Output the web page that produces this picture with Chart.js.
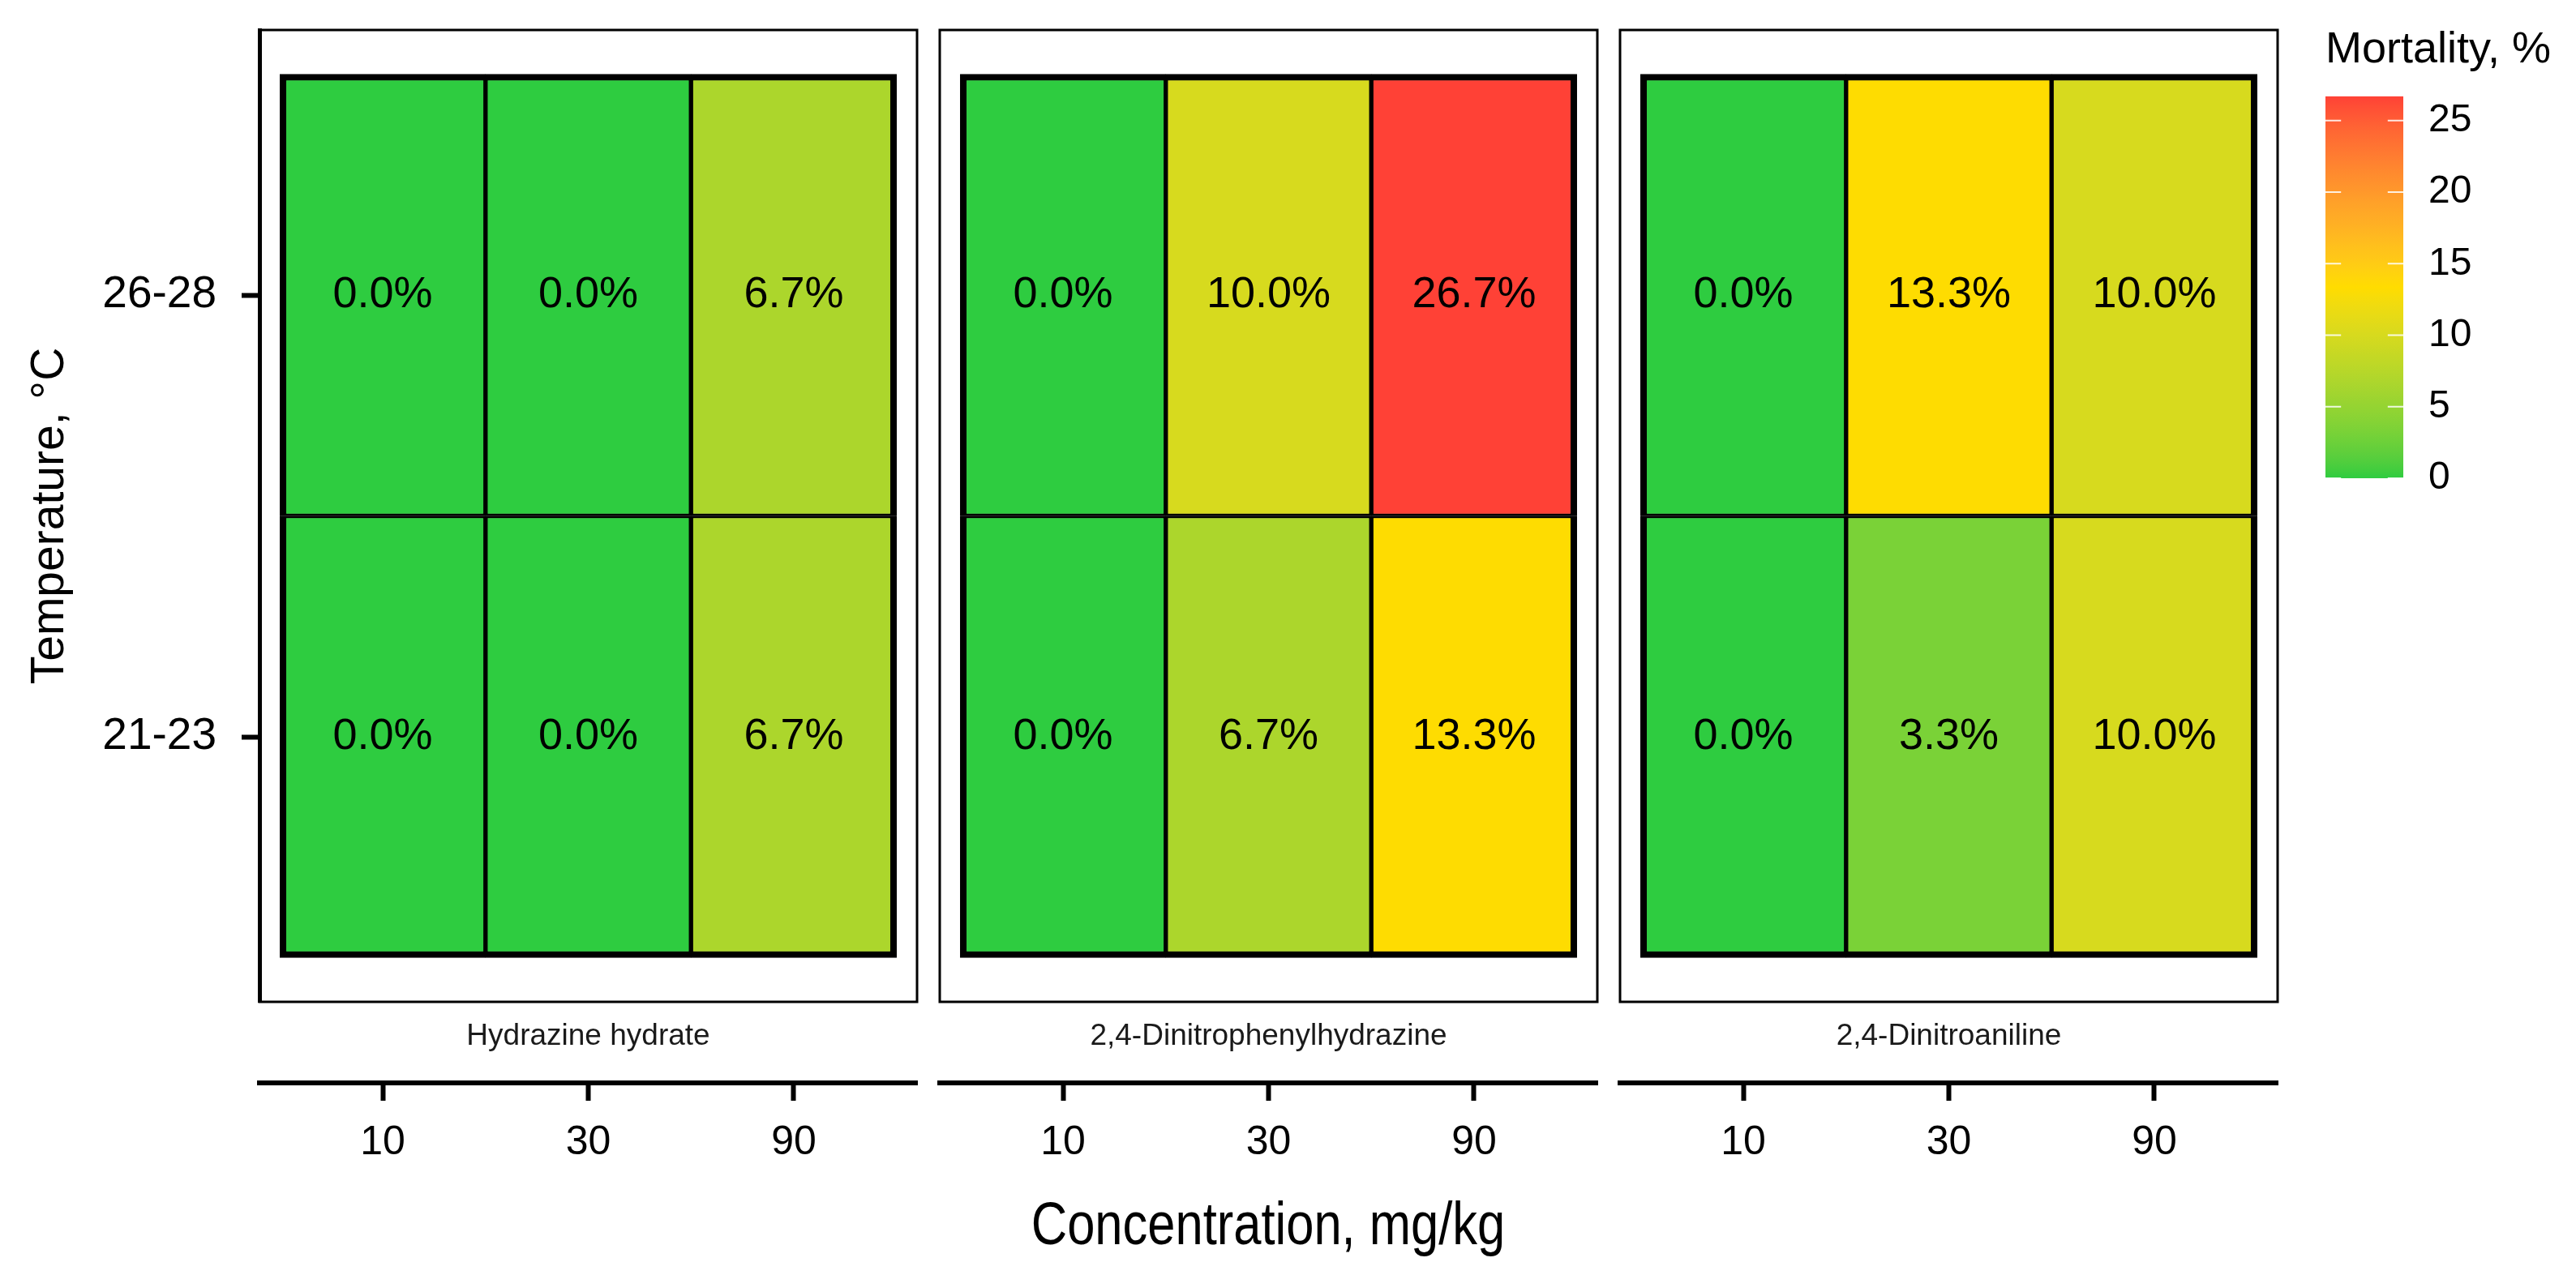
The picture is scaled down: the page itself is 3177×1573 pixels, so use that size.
<!DOCTYPE html>
<html>
<head>
<meta charset="utf-8">
<script src="https://cdn.jsdelivr.net/npm/chart.js@4.4.1/dist/chart.umd.min.js"></script>
<style>
  html, body { margin: 0; padding: 0; background: #fff; }
  body { width: 3177px; height: 1573px; position: relative; overflow: hidden; }
  canvas { position: absolute; top: 0; }
  #xTitle {
    position: absolute; left: 320px; width: 2488px; top: 1472px;
    text-align: center; font: 75px/1 "Liberation Sans", Arial, sans-serif; color: #000;
    transform: scaleX(0.82); transform-origin: 50% 50%; white-space: nowrap;
  }
</style>
</head>
<body>
<canvas id="panel0" width="1141" height="1463" style="left:0px"></canvas>
<canvas id="panel1" width="831" height="1463" style="left:1149px"></canvas>
<canvas id="panel2" width="831" height="1463" style="left:1988px"></canvas>
<canvas id="legend" width="347" height="650" style="left:2830px"></canvas>
<div id="xTitle">Concentration, mg/kg</div>
<script>
// data
const compounds = ['Hydrazine hydrate', '2,4-Dinitrophenylhydrazine', '2,4-Dinitroaniline'];
const concentrations = ['10', '30', '90'];
const temperatures = ['21-23', '26-28'];

// mortality, %  (columns follow concentrations)
const hydrazineLow = [0.0, 0.0, 6.7];
const hydrazineHigh = [0.0, 0.0, 6.7];
const dnphLow = [0.0, 6.7, 13.3];
const dnphHigh = [0.0, 10.0, 26.7];
const dnaLow = [0.0, 3.3, 10.0];
const dnaHigh = [0.0, 13.3, 10.0];

const legendTicks = [0, 5, 10, 15, 20, 25];
const colourStops = ['#2ECC40', '#FFDC00', '#FF4136'];

const panelRows = [
  [hydrazineLow, hydrazineHigh],
  [dnphLow, dnphHigh],
  [dnaLow, dnaHigh]
];
const maxMortality = Math.max(...panelRows.flat(2));

Chart.defaults.font.family = "'Liberation Sans', Arial, sans-serif";
Chart.defaults.color = '#000';

// colour scale interpolated in Lab, like ggplot's gradientn
function hexToRgb(h) { return [1, 3, 5].map(i => parseInt(h.slice(i, i + 2), 16)); }
function toLin(c) { c /= 255; return c <= 0.04045 ? c / 12.92 : Math.pow((c + 0.055) / 1.055, 2.4); }
function fromLin(c) {
  const v = c <= 0.0031308 ? 12.92 * c : 1.055 * Math.pow(c, 1 / 2.4) - 0.055;
  return Math.round(Math.min(1, Math.max(0, v)) * 255);
}
function rgbToLab(rgb) {
  const [r, g, b] = rgb.map(toLin);
  const x = (0.4124 * r + 0.3576 * g + 0.1805 * b) / 0.95047;
  const y = 0.2126 * r + 0.7152 * g + 0.0722 * b;
  const z = (0.0193 * r + 0.1192 * g + 0.9505 * b) / 1.08883;
  const f = t => t > 0.008856 ? Math.cbrt(t) : 7.787 * t + 16 / 116;
  return [116 * f(y) - 16, 500 * (f(x) - f(y)), 200 * (f(y) - f(z))];
}
function labToRgb([L, a, b]) {
  const fy = (L + 16) / 116, fx = fy + a / 500, fz = fy - b / 200;
  const fi = t => t * t * t > 0.008856 ? t * t * t : (t - 16 / 116) / 7.787;
  const x = fi(fx) * 0.95047, y = fi(fy), z = fi(fz) * 1.08883;
  return [
    3.2406 * x - 1.5372 * y - 0.4986 * z,
    -0.9689 * x + 1.8758 * y + 0.0415 * z,
    0.0557 * x - 0.2040 * y + 1.0570 * z
  ].map(fromLin);
}
const stopLabs = colourStops.map(c => rgbToLab(hexToRgb(c)));
function mortalityColour(v) {
  const t = Math.min(1, Math.max(0, v / maxMortality)) * (stopLabs.length - 1);
  const i = Math.min(stopLabs.length - 2, Math.floor(t));
  const f = t - i;
  const lab = stopLabs[i].map((c, k) => c + (stopLabs[i + 1][k] - c) * f);
  const [r, g, b] = labToRgb(lab);
  return `rgb(${r},${g},${b})`;
}

const cellLabels = {
  id: 'cellLabels',
  afterDatasetsDraw(chart) {
    const ctx = chart.ctx;
    ctx.save();
    ctx.font = "54px 'Liberation Sans', Arial, sans-serif";
    ctx.fillStyle = '#000';
    ctx.textAlign = 'center';
    ctx.textBaseline = 'middle';
    chart.data.datasets.forEach((ds, di) => {
      chart.getDatasetMeta(di).data.forEach((bar, i) => {
        const p = bar.getCenterPoint();
        ctx.fillText(ds.mortality[i].toFixed(1) + '%', p.x, p.y);
      });
    });
    ctx.restore();
  }
};

const panelFrame = {
  id: 'panelFrame',
  beforeDatasetsDraw(chart) {
    const { ctx, chartArea: a } = chart;
    ctx.save();
    ctx.strokeStyle = '#000';
    ctx.lineWidth = 3;
    ctx.strokeRect(a.left, a.top, a.right - a.left, a.bottom - a.top);
    ctx.restore();
  }
};

const fixedTicks = values => scale => { scale.ticks = values.map(v => ({ value: v })); };
const noPadX = s => { s.paddingLeft = 0; s.paddingRight = 0; };
const colIdx = concentrations.map((c, i) => i + 1);
const rowIdx = temperatures.map((t, i) => i + 1);

function makePanel(p) {
  const first = p === 0;
  const datasets = panelRows[p].map((vals, r) => ({
    label: temperatures[r],
    mortality: vals,
    data: vals.map((v, i) => ({ x: colIdx[i], y: [rowIdx[r] - 0.5, rowIdx[r] + 0.5] })),
    backgroundColor: vals.map(mortalityColour),
    borderColor: '#000',
    borderSkipped: false,
    borderWidth: ctx => ({
      left: ctx.dataIndex === 0 ? 8 : 3,
      right: ctx.dataIndex === concentrations.length - 1 ? 8 : 3,
      top: ctx.datasetIndex === temperatures.length - 1 ? 8 : 3,
      bottom: ctx.datasetIndex === 0 ? 8 : 3
    }),
    grouped: false,
    barPercentage: 1,
    categoryPercentage: 1
  }));

  return new Chart(document.getElementById('panel' + p), {
    type: 'bar',
    data: { datasets },
    plugins: [panelFrame, cellLabels],
    options: {
      responsive: false,
      animation: false,
      devicePixelRatio: 1,
      layout: { padding: { left: first ? 0 : 10, right: 10, top: 37, bottom: 7 } },
      plugins: { legend: { display: false }, tooltip: { enabled: false } },
      scales: {
        x: {
          type: 'linear', min: 0.4, max: 3.6, offset: false, weight: 0,
          afterBuildTicks: fixedTicks(colIdx),
          afterFit: s => { s.height = 100; noPadX(s); },
          grid: { display: false, offset: false },
          border: { display: false },
          ticks: { display: false },
          title: {
            display: true, text: compounds[p], color: '#1a1a1a',
            font: { size: 37 }, padding: { top: 0, bottom: 35 }
          }
        },
        xAxis: {
          type: 'linear', position: 'bottom', axis: 'x', min: 0.4, max: 3.6, offset: false, weight: 1,
          afterBuildTicks: fixedTicks(colIdx),
          afterFit: s => { s.height = 120; noPadX(s); },
          grid: { display: true, offset: false, drawOnChartArea: false, drawTicks: true, tickLength: 22, tickWidth: 6, tickColor: '#000' },
          border: { display: true, color: '#000', width: 6 },
          ticks: { font: { size: 50 }, padding: 22, color: '#000', maxRotation: 0, callback: v => concentrations[v - 1] }
        },
        y: {
          type: 'linear', min: 0.4, max: 2.6, display: first,
          afterBuildTicks: fixedTicks(rowIdx),
          afterFit: s => { s.width = first ? 320 : 0; s.paddingTop = 0; s.paddingBottom = 0; },
          grid: { display: true, drawOnChartArea: false, drawTicks: true, tickLength: 22, tickWidth: 6, tickColor: '#000' },
          border: { display: true, color: '#000', width: 5 },
          ticks: { font: { size: 55 }, padding: 31, color: '#000', callback: v => temperatures[v - 1] },
          title: { display: true, text: 'Temperature, °C', font: { size: 57 }, padding: { top: 28, bottom: 0 } }
        }
      }
    }
  });
}

compounds.forEach((c, p) => makePanel(p));

// colour bar legend
const colourBarTicks = {
  id: 'colourBarTicks',
  afterDatasetsDraw(chart) {
    const { ctx, chartArea: a, scales: { y } } = chart;
    const len = (a.right - a.left) * 0.2;
    ctx.save();
    ctx.strokeStyle = 'rgba(255,255,255,0.85)';
    ctx.lineWidth = 2;
    legendTicks.forEach(v => {
      const py = y.getPixelForValue(v);
      ctx.beginPath();
      ctx.moveTo(a.left, py); ctx.lineTo(a.left + len, py);
      ctx.moveTo(a.right - len, py); ctx.lineTo(a.right, py);
      ctx.stroke();
    });
    ctx.restore();
  }
};

new Chart(document.getElementById('legend'), {
  type: 'bar',
  data: {
    labels: ['Mortality'],
    datasets: [{
      data: [maxMortality],
      barPercentage: 1,
      categoryPercentage: 1,
      borderWidth: 0,
      backgroundColor: ctx => {
        const a = ctx.chart.chartArea;
        if (!a) return colourStops[0];
        const yScale = ctx.chart.scales.y;
        const g = ctx.chart.ctx.createLinearGradient(0, yScale.getPixelForValue(0), 0, yScale.getPixelForValue(maxMortality));
        for (let k = 0; k <= 40; k++) g.addColorStop(k / 40, mortalityColour(maxMortality * k / 40));
        return g;
      }
    }]
  },
  plugins: [colourBarTicks],
  options: {
    responsive: false,
    animation: false,
    devicePixelRatio: 1,
    layout: { padding: { left: 38, right: 0, top: 0, bottom: 60 } },
    plugins: {
      legend: { display: false },
      tooltip: { enabled: false },
      title: {
        display: true, text: 'Mortality, %', align: 'start',
        font: { size: 54, weight: 'normal' }, padding: { top: 30, bottom: 24 }, color: '#000'
      }
    },
    scales: {
      x: { display: false },
      y: {
        position: 'right', min: 0, max: maxMortality,
        afterBuildTicks: fixedTicks(legendTicks),
        afterFit: s => { s.width = 213; s.paddingTop = 0; s.paddingBottom = 0; },
        grid: { display: false, drawTicks: false },
        border: { display: false },
        ticks: { font: { size: 48 }, padding: 31, color: '#000' }
      }
    }
  }
});
</script>
</body>
</html>
